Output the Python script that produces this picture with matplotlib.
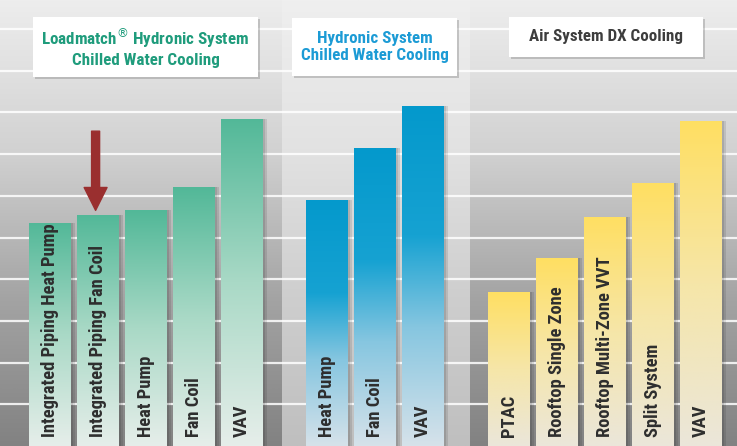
import matplotlib
matplotlib.use('Agg')
import matplotlib.pyplot as plt
import numpy as np
from matplotlib.colors import LinearSegmentedColormap
from matplotlib.patches import Rectangle
from matplotlib import font_manager

# font: a narrow sans if there is one
names = {f.name for f in font_manager.fontManager.ttflist}
narrow = 'Roboto'
for cand in ['Liberation Sans Narrow', 'Roboto Condensed', 'Open Sans Condensed',
             'DejaVu Sans Condensed', 'Arial Narrow']:
    if cand in names:
        narrow = cand
        break

# data (relative units; one unit = one grid line)
lm_labels = ['Integrated Piping Heat Pump', 'Integrated Piping Fan Coil', 'Heat Pump', 'Fan Coil', 'VAV']
lm_values = [5.35, 5.55, 5.65, 6.2, 7.85]
hyd_labels = ['Heat Pump', 'Fan Coil', 'VAV']
hyd_values = [5.9, 7.15, 8.15]
air_labels = ['PTAC', 'Rooftop Single Zone', 'Rooftop Multi-Zone VVT', 'Split System', 'VAV']
air_values = [3.7, 4.5, 5.5, 6.3, 7.8]
titles = ['Loadmatch$^{\\circledR}$ Hydronic System\nChilled Water Cooling',
          'Hydronic System\nChilled Water Cooling',
          'Air System DX Cooling']

W, H = 737, 446
UNIT_X, UNIT_Y = 48.0, 41.7   # pixels per bar step / per grid line

teal = LinearSegmentedColormap.from_list('teal', ['#e6eeea', '#a9d9c6', '#52b898'])
blue = LinearSegmentedColormap.from_list('blue', [(0, '#d6e2ea'), (0.35, '#86c6e0'),
                                                  (0.62, '#16a2d2'), (1, '#0499cc')])
yellow = LinearSegmentedColormap.from_list('yellow', ['#ebe6da', '#f6e6a8', '#ffdf62'])
bg_dark = LinearSegmentedColormap.from_list('bgd', ['#ededed', '#d2d2d2', '#a4a4a4', '#828282'])
bg_light = LinearSegmentedColormap.from_list('bgl', ['#efefef', '#e2e2e2', '#cecece', '#bfbfbf'])

# (left px, width px, first bar centre offset px)
panels = [
    (0, 282, 50, lm_labels, lm_values, teal, bg_dark, '#1f9c7c', (33, 17, 258, 77)),
    (282, 188, 44.5, hyd_labels, hyd_values, blue, bg_light, '#1c9bd5', (292, 18, 457, 76)),
    (470, 267, 39, air_labels, air_values, yellow, bg_dark, '#3d3d3d', (509, 17, 703, 57)),
]

fig = plt.figure(figsize=(W / 100, H / 100), dpi=100)
renderer = fig.canvas.get_renderer()

def fit_size(text, size, target, **kw):
    t = fig.text(0, 0, text, fontsize=size, family=narrow, **kw)
    w = t.get_window_extent(renderer).width
    t.remove()
    return size * target / w

label_size = fit_size('Integrated Piping Heat Pump', 12, 214, fontweight='bold')
title_size = fit_size('Chilled Water Cooling', 12, 148, fontweight='bold')

grad = np.linspace(0, 1, 256).reshape(-1, 1)
ytop = H / UNIT_Y

for i, (left, width, c0, labels, values, cmap, bg, tcolor, box) in enumerate(panels):
    ax = fig.add_axes([left / W, 0, width / W, 1])
    x0 = -c0 / UNIT_X
    x1 = x0 + width / UNIT_X
    ax.imshow(grad, extent=[x0, x1, 0, ytop], aspect='auto', cmap=bg, zorder=0)
    for v in range(1, 11):
        ax.axhline(v, color='white', lw=1.6, alpha=0.85, zorder=1)

    xs = np.arange(len(values))
    bw = 0.875
    # soft shadow right of each bar
    ax.bar(xs + 0.09, values, width=bw, color='black', alpha=0.10, zorder=2)
    ax.bar(xs + 0.05, values, width=bw, color='black', alpha=0.10, zorder=2)
    bars = ax.bar(xs, values, width=bw, color='none', zorder=3)
    for b, lab in zip(bars, labels):
        bx, bh = b.get_x(), b.get_height()
        im = ax.imshow(grad, extent=[bx, bx + bw, 0, bh], aspect='auto',
                       cmap=cmap, origin='lower', zorder=3)
        im.set_clip_path(b)
        ax.text(bx + bw / 2, 0.22, lab, rotation=90, ha='center', va='bottom',
                fontsize=label_size, fontweight='bold', color='#2e2e2e', family=narrow, zorder=4)

    if i == 0:
        ax.annotate('', xy=(1 - 0.05, values[1] + 0.1), xytext=(1 - 0.05, 7.55),
                    arrowprops=dict(arrowstyle='simple,head_length=1,head_width=1,tail_width=0.35',
                                    mutation_scale=16.5, color='#9a2f2f', shrinkA=0, shrinkB=0),
                    zorder=5)

    ax.set_xlim(x0, x1)
    ax.set_ylim(0, ytop)
    ax.axis('off')

    # title box
    bx0, by0, bx1, by1 = box
    fig.add_artist(Rectangle(((bx0 + 2) / W, 1 - (by1 + 2) / H), (bx1 - bx0) / W, (by1 - by0) / H,
                             transform=fig.transFigure, fc='#777777', ec='none', alpha=0.35, zorder=5))
    fig.add_artist(Rectangle((bx0 / W, 1 - by1 / H), (bx1 - bx0) / W, (by1 - by0) / H,
                             transform=fig.transFigure, fc='white', ec='none', zorder=6))
    fig.text((bx0 + bx1) / 2 / W, 1 - (by0 + by1) / 2 / H, titles[i], ha='center', va='center',
             fontsize=title_size, fontweight='bold', color=tcolor, family=narrow,
             linespacing=1.2, zorder=7)

fig.savefig('out.png', dpi=100)
